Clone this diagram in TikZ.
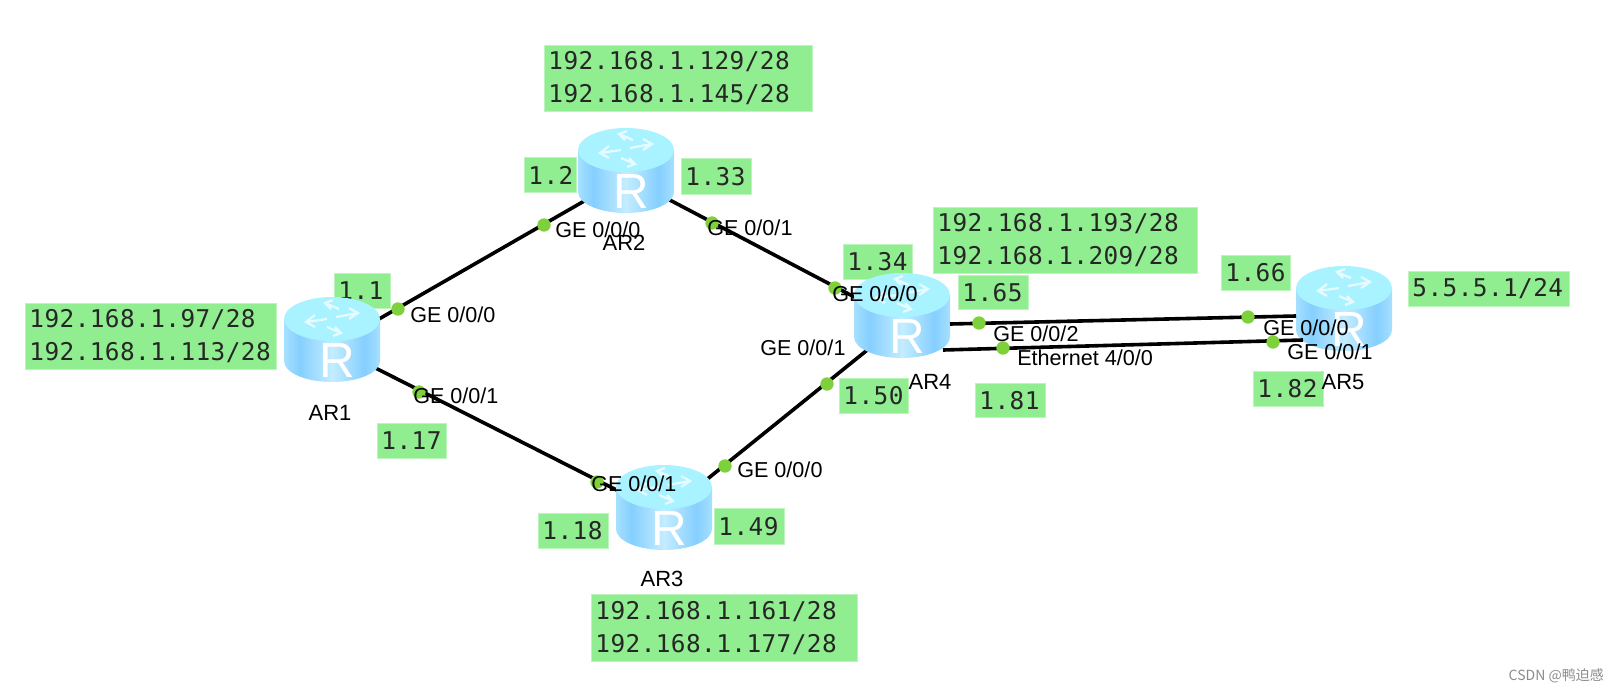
\documentclass[tikz,border=0pt]{standalone}
\usepackage[svgnames]{xcolor}
\usepackage{fontspec}
\setmainfont{Liberation Sans}
\newfontfamily\ipfont[LetterSpace=1.7]{DejaVu Sans Mono}
\newfontfamily\cjk{Noto Sans CJK SC}
\usetikzlibrary{positioning,calc}

\definecolor{routeredge}{HTML}{A6E0FF}
\definecolor{routerdark}{HTML}{85CFFF}
\definecolor{routermid}{HTML}{C4EDFF}
\definecolor{routertop}{HTML}{A8F3FF}
\definecolor{portgreen}{HTML}{7FD13B}
\pgfdeclarehorizontalshading{routershade}{100bp}{color(0bp)=(routeredge); color(25bp)=(routeredge); color(33bp)=(routerdark); color(50bp)=(routermid); color(67bp)=(routerdark); color(75bp)=(routeredge); color(100bp)=(routeredge)}

\tikzset{
	routerspot/.style={circle, inner sep=0pt, minimum size=0pt},
	link/.style={line width=2.7pt, black},
	portdot/.style={circle, fill=portgreen, inner sep=0pt, minimum size=10pt},
	portlabel/.style={anchor=west, inner sep=0pt, font=\fontsize{16.2}{18}\selectfont},
	routerlabel/.style={inner sep=0pt, font=\fontsize{16.5}{18}\selectfont},
	ipbox/.style n args={2}{anchor=north west, fill=LightGreen, draw=LightGreen!60, line width=0.7pt,
		inner xsep=3pt, inner ysep=0pt, text width=#1*0.75pt-6pt, minimum height=#2*0.75pt, align=left,
		font=\ipfont\fontsize{18.3}{24.75}\selectfont, text=black!85},
	pics/routericon/.style={code={
		\shade[shading=routershade] (-48,-27) -- (-48,15) arc[start angle=180, end angle=0, x radius=48, y radius=21] -- (48,-27) -- cycle;
		\fill[routertop] (0,-27) ellipse[x radius=48, y radius=22];
		\draw[white, line width=1.7pt, line join=miter, opacity=0.7]
			(-5,-27) -- (-26,-24) (-17,-31) -- (-26,-24) -- (-17,-19)
			(4,-29) -- (26,-33) (17,-38) -- (26,-33) -- (17,-27)
			(7,-37) -- (-7,-43) (1,-46) -- (-7,-43) -- (-1,-37)
			(-5,-19) -- (9,-13) (1,-10) -- (9,-13) -- (3,-19);
		\node[inner sep=0pt, white, font=\fontsize{37}{37}\selectfont] (-letter) at (5,15) {R};
	}},
}

\begin{document}
\begin{tikzpicture}[x=0.75pt, y=-0.75pt]
	\useasboundingbox (0,0) rectangle (1620,693);

	% Routeurs
	\node[routerspot] (ar1) at (332,346) {};
	\node[routerspot] (ar2) at (626,177) {};
	\node[routerspot] (ar3) at (664,514) {};
	\node[routerspot] (ar4) at (902,322) {};
	\node[routerspot] (ar5) at (1344,315) {};

	% Adresses
	\node[ipbox={251}{66}] (net1) at (25,303) {192.168.1.97/28\\192.168.1.113/28};
	\node[ipbox={268}{66}] (net2) at (544,45) {192.168.1.129/28\\192.168.1.145/28};
	\node[ipbox={266}{67}] (net3) at (591,594) {192.168.1.161/28\\192.168.1.177/28};
	\node[ipbox={264}{66}] (net4) at (933,207) {192.168.1.193/28\\192.168.1.209/28};
	\node[ipbox={161}{35}] (net5) at (1408,271) {5.5.5.1/24};
	\node[ipbox={56}{35}] (b1) at (334,273) {1.1};
	\node[ipbox={69}{35}] (b17) at (377,423) {1.17};
	\node[ipbox={52}{35}] (b2) at (524,157) {1.2};
	\node[ipbox={70}{36}] (b33) at (681,158) {1.33};
	\node[ipbox={70}{35}] (b18) at (538,513) {1.18};
	\node[ipbox={70}{36}] (b49) at (714,508) {1.49};
	\node[ipbox={69}{35}] (b34) at (843,244) {1.34};
	\node[ipbox={70}{34}] (b65) at (958,275) {1.65};
	\node[ipbox={69}{35}] (b50) at (839,378) {1.50};
	\node[ipbox={70}{34}] (b81) at (975,383) {1.81};
	\node[ipbox={69}{35}] (b66) at (1221,255) {1.66};
	\node[ipbox={70}{35}] (b82) at (1253,371) {1.82};

	% Liens
	\draw[link] (ar1) -- (ar2);
	\draw[link] (ar2) -- (ar4);
	\draw[link] (ar1) -- (ar3);
	\draw[link] (ar3) -- (ar4);

	\pic (ar1) at (ar1) {routericon};
	\pic (ar2) at (ar2) {routericon};
	\pic (ar3) at (ar3) {routericon};
	\pic (ar4) at (ar4) {routericon};
	\pic (ar5) at (ar5) {routericon};

	% Deux liens AR4-AR5
	\coordinate (ar4up) at (950,324);
	\coordinate (ar5up) at (1296,316);
	\coordinate (ar4low) at (943,350);
	\coordinate (ar5low) at (1303,340);
	\draw[link] (ar4up) -- (ar5up);
	\draw[link] (ar4low) -- (ar5low);

	% Ports
	\node[portdot] (p1a) at (398,309) {};
	\node[portdot] (p1b) at (419,392) {};
	\node[portdot] (p2a) at (544,225) {};
	\node[portdot] (p2b) at (712,223) {};
	\node[portdot] (p3a) at (725,466) {};
	\node[portdot] (p3b) at (597,482) {};
	\node[portdot] (p4a) at (835,288) {};
	\node[portdot] (p4b) at (827,384) {};
	\node[portdot] (p4c) at (979,323) {};
	\node[portdot] (p4d) at (1003,348) {};
	\node[portdot] (p5a) at (1248,317) {};
	\node[portdot] (p5b) at (1273,342) {};

	\node[portlabel] (l1a) at (410,315) {GE 0/0/0};
	\node[portlabel] (l1b) at (413,396) {GE 0/0/1};
	\node[portlabel] (l2a) at (555,230) {GE 0/0/0};
	\node[portlabel] (l2b) at (707,228) {GE 0/0/1};
	\node[portlabel] (l3a) at (737,470) {GE 0/0/0};
	\node[portlabel] (l3b) at (591,484) {GE 0/0/1};
	\node[portlabel] (l4a) at (832,294) {GE 0/0/0};
	\node[portlabel] (l4b) at (760,348) {GE 0/0/1};
	\node[portlabel] (l4c) at (993,334) {GE 0/0/2};
	\node[portlabel] (l4d) at (1017,358) {Ethernet 4/0/0};
	\node[portlabel] (l5a) at (1263,328) {GE 0/0/0};
	\node[portlabel] (l5b) at (1287,352) {GE 0/0/1};

	% Noms
	\node[routerlabel] (n1) at (330,413) {AR1};
	\node[routerlabel] (n2) at (624,243) {AR2};
	\node[routerlabel] (n3) at (662,579) {AR3};
	\node[routerlabel] (n4) at (930,382) {AR4};
	\node[routerlabel] (n5) at (1343,382) {AR5};

	\node[anchor=east, inner sep=0pt, text=black!45, font=\cjk\fontsize{10.5}{12}\selectfont] (mark) at (1604,676) {CSDN @鸭迫感};
\end{tikzpicture}
\end{document}
